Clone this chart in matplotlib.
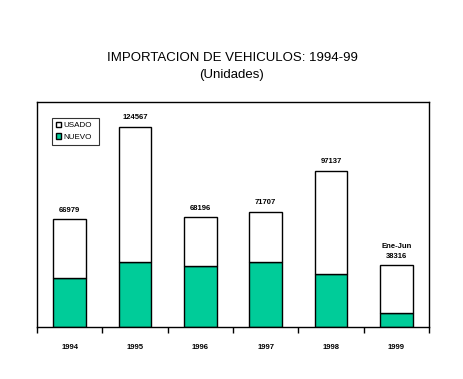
import numpy as np
import matplotlib.pyplot as plt
from matplotlib.ticker import FixedLocator

years = ['1994', '1995', '1996', '1997', '1998', '1999']
totales = [66979, 124567, 68196, 71707, 97137, 38316]
nuevo = [30300, 40300, 37800, 40300, 33000, 8700]
usado = [t - n for t, n in zip(totales, nuevo)]
etiquetas = ['66979', '124567', '68196', '71707', '97137', 'Ene-Jun\n38316']

green = '#00CC99'

plt.rcParams['font.family'] = ['Liberation Sans', 'DejaVu Sans']

fig = plt.figure(figsize=(4.64, 3.79), dpi=100)
ax = fig.add_axes([37/464, 52/379, 392/464, 225/379])

x = np.arange(len(years))
ax.bar(x, nuevo, width=0.5, color=green, edgecolor='black', linewidth=1, label='NUEVO')
ax.bar(x, usado, width=0.5, bottom=nuevo, color='white', edgecolor='black', linewidth=1, label='USADO')

for xi, t, lab in zip(x, totales, etiquetas):
    ax.text(xi, t + 3500, lab, ha='center', va='bottom', fontsize=5.5,
            fontweight='bold', linespacing=1.6)

ax.set_xlim(-0.5, len(years) - 0.5)
ax.set_ylim(0, 140000)
ax.set_yticks([])
ax.set_xticks(x)
ax.set_xticklabels(years, fontsize=5.5, fontweight='bold')
ax.tick_params(axis='x', which='major', length=0, pad=12)
ax.xaxis.set_minor_locator(FixedLocator(np.arange(-0.5, len(years), 1)))
ax.tick_params(axis='x', which='minor', length=4, width=1, direction='out')
for s in ax.spines.values():
    s.set_linewidth(1)
    s.set_color('black')

# legend box spans x 52-99, y 118-143 px
h, l = ax.get_legend_handles_labels()
leg = ax.legend(h[::-1], l[::-1], loc='upper left',
                bbox_to_anchor=(15/392, 1 - 16/225, 47/392, 0), mode='expand',
                fontsize=5.8, frameon=True, fancybox=False, edgecolor='black',
                handlelength=0.6, handleheight=0.6, handletextpad=0.3,
                borderpad=0.5, labelspacing=0.5, borderaxespad=0)
leg.get_frame().set_linewidth(0.8)

fig.text(232/464, 1 - 58/379, 'IMPORTACION DE VEHICULOS: 1994-99', ha='center', va='center', fontsize=9.5)
fig.text(232/464, 1 - 75/379, '(Unidades)', ha='center', va='center', fontsize=9.5)

fig.savefig('out.png', dpi=100)
